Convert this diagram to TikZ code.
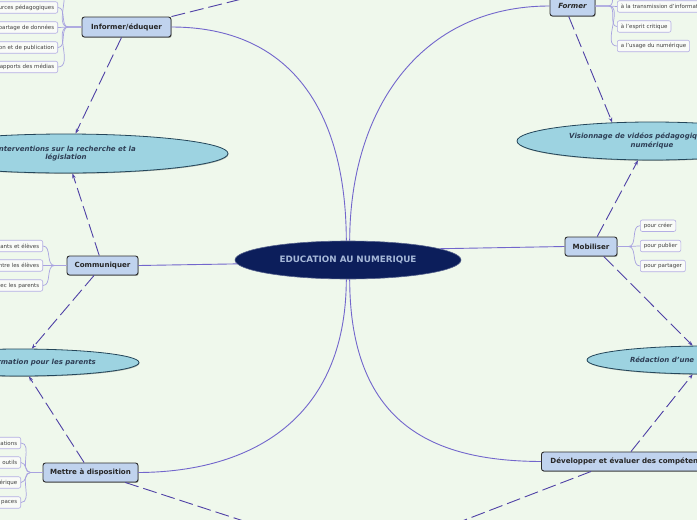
\documentclass[tikz,border=0pt]{standalone}
\usepackage{fontspec}
\setmainfont{DejaVu Sans}
\usetikzlibrary{shapes.geometric,arrows.meta,shadows}
\definecolor{bg}{HTML}{EFF8EC}
\definecolor{topicfill}{HTML}{C0D3EE}
\definecolor{topicborder}{HTML}{2E2E2E}
\definecolor{ideafill}{HTML}{9DD3E1}
\definecolor{ideaborder}{HTML}{24465A}
\definecolor{ideatxt}{HTML}{2E3E55}
\definecolor{centralfill}{HTML}{0C1E5B}
\definecolor{centraltxt}{HTML}{A6B8D8}
\definecolor{leaffill}{HTML}{F9FBF8}
\definecolor{leafborder}{HTML}{B4AEE4}
\definecolor{leafc}{HTML}{A8A2E0}
\definecolor{mainc}{HTML}{7266CC}
\definecolor{relc}{HTML}{4F41A6}
\begin{document}
\begin{tikzpicture}[x=1pt,y=-1pt,
  central/.style={ellipse, fill=centralfill, draw=centralfill!70!white, line width=0.6pt, inner sep=0pt,
    minimum width=226pt, minimum height=38pt, text=centraltxt, font=\fontsize{8.8}{10}\selectfont\bfseries},
  topic/.style={rectangle, rounded corners=2.5pt, draw=topicborder, line width=0.9pt, fill=topicfill,
    inner sep=0pt, text=black!85, font=\fontsize{7.1}{8}\selectfont\bfseries,
    drop shadow={shadow xshift=0.7pt, shadow yshift=-0.9pt, opacity=0.35, fill=black}},
  idea/.style={ellipse, draw=ideaborder, line width=0.8pt, fill=ideafill, inner sep=0pt,
    drop shadow={shadow xshift=0.5pt, shadow yshift=-0.8pt, opacity=0.3, fill=black}},
  ideatext/.style={inner sep=0pt, text=ideatxt, font=\fontsize{7}{8.3}\selectfont\bfseries\itshape},
  leafL/.style={rectangle, rounded corners=2pt, draw=leafborder, line width=0.6pt, fill=leaffill,
    anchor=east, align=right, inner xsep=3.5pt, inner ysep=0pt, minimum height=11.5pt,
    text=black!75, font=\fontsize{5.5}{6.5}\selectfont},
  leafR/.style={leafL, anchor=west, align=left},
  leafline/.style={draw=leafc, line width=0.7pt},
  mainline/.style={draw=mainc, line width=0.9pt},
  relN/.style={draw=relc, line width=0.9pt, dash pattern=on 14pt off 5pt},
  rel/.style={relN, -{Stealth[length=5pt,width=3.5pt]}}
]
\useasboundingbox (0,0) rectangle (697,520);
\fill[bg] (0,0) rectangle (697,520);
\clip (0,0) rectangle (697,520);

% hidden free ends
\coordinate (topX) at (330,-23);
\coordinate (botA) at (345,554);
\coordinate (botB) at (345,566);
\coordinate (i0) at (58,-12.5);
\coordinate (f0) at (617,-13.5);

% central
\node[central] (c) at (348,260) {EDUCATION AU NUMERIQUE};

% topics
\node[topic, minimum width=89pt, minimum height=20pt] (inf) at (126.5,27) {Informer/éduquer};
\node[topic, font=\fontsize{7.1}{8}\selectfont\bfseries\itshape, minimum width=45pt, minimum height=20pt] (form) at (572.5,6) {Former};
\node[topic, minimum width=71pt, minimum height=19pt] (comm) at (102.5,265.5) {Communiquer};
\node[topic, minimum width=52pt, minimum height=19pt] (mob) at (591,246.5) {Mobiliser};
\node[topic, minimum width=95pt, minimum height=19pt] (mett) at (90.5,472.5) {Mettre à disposition};
\node[topic, anchor=west, inner xsep=9pt, minimum height=19pt] (dev) at (541,461.5) {Développer et évaluer des compétences};

% ideas
\node[idea, minimum width=324pt, minimum height=39pt, align=center, text=ideatxt,
      font=\fontsize{7}{8.3}\selectfont\bfseries\itshape] (intv) at (66,153.5) {Interventions sur la recherche et la\\législation};
\node[idea, minimum width=270pt, minimum height=38pt] (vis) at (652,141) {};
\node[ideatext, anchor=west] (vist1) at (569,136) {Visionnage de vidéos pédagogiques};
\node[ideatext] (vist2) at (652,145.5) {numérique};
\node[idea, minimum width=238pt, minimum height=27pt] (info) at (20,362.5) {};
\node[ideatext, anchor=east] (infot) at (96,363) {ormation pour les parents};
\node[idea, minimum width=240pt, minimum height=28pt] (red) at (707,360) {};
\node[ideatext, anchor=west] (redt) at (630,359.5) {Rédaction d'une};

% leaves
\node[leafL, text width=62pt] (i1) at (58,7.5) {urces pédagogiques};
\node[leafL, text width=62pt] (i2) at (58,27.5) {partage de données};
\node[leafL, text width=62pt] (i3) at (58,47.5) {on et de publication};
\node[leafL, text width=62pt] (i4) at (58,67) {apports des médias};

\node[leafL, text width=46pt] (c1) at (43,246) {ants et élèves};
\node[leafL, text width=46pt] (c2) at (43,265.5) {ntre les élèves};
\node[leafL, text width=46pt] (c3) at (43,285.5) {vec les parents};

\node[leafL, text width=24pt] (d1) at (21,443) {ations};
\node[leafL, text width=24pt] (d2) at (21,462.5) {outils};
\node[leafL, text width=24pt] (d3) at (21,482.5) {érique};
\node[leafL, text width=24pt] (d4) at (21,502.5) {paces};

\node[leafR] (f1) at (617,6.5) {à la transmission d'information};
\node[leafR] (f2) at (617,26.5) {à l'esprit critique};
\node[leafR] (f3) at (617,46) {a l'usage du numérique};

\node[leafR] (m1) at (640,225.7) {pour créer};
\node[leafR] (m2) at (640,246) {pour publier};
\node[leafR] (m3) at (640,266) {pour partager};

% leaf connectors
\draw[leafline] (inf.west) -- ++(-13,0) to[out=180,in=0] (i0);
\foreach \l in {i1,i2,i3,i4} \draw[leafline] (inf.west) -- ++(-13,0) to[out=180,in=0] (\l.east);
\foreach \l in {c1,c2,c3} \draw[leafline] (comm.west) -- ++(-12,0) to[out=180,in=0] (\l.east);
\foreach \l in {d1,d2,d3,d4} \draw[leafline] (mett.west) -- ++(-12,0) to[out=180,in=0] (\l.east);
\draw[leafline] (form.east) -- ++(13,0) to[out=0,in=180] (f0);
\foreach \l in {f1,f2,f3} \draw[leafline] (form.east) -- ++(13,0) to[out=0,in=180] (\l.west);
\foreach \l in {m1,m2,m3} \draw[leafline] (mob.east) -- ++(11,0) to[out=0,in=180] (\l.west);

% main connectors
\draw[mainline] (c.95) .. controls (346,110) and (290,27) .. (inf.east);
\draw[mainline] (c.85) .. controls (350,110) and (420,6) .. (form.west);
\draw[mainline] (c.265) .. controls (346,420) and (250,472) .. (mett.east);
\draw[mainline] (c.275) .. controls (350,430) and (440,461) .. (dev.west);
\draw[mainline] (c.182) -- (comm.east);
\draw[mainline] (c.7) -- (mob.west);

% relationships
\draw[rel] (inf) -- (intv);
\draw[rel] (comm) -- (intv);
\draw[rel] (comm) -- (info);
\draw[rel] (mett) -- (info);
\draw[rel] (form.250) -- (vis.155);
\draw[rel] (mob.58) -- (vis.234);
\draw[rel] (mob.322) -- (red.135);
\draw[rel] (dev.north) -- (red.225);
\draw[relN] (inf.north east) -- (topX);
\draw[relN] (mett.344) -- (botA);
\draw[relN] (dev.194) -- (botB);
\end{tikzpicture}
\end{document}
